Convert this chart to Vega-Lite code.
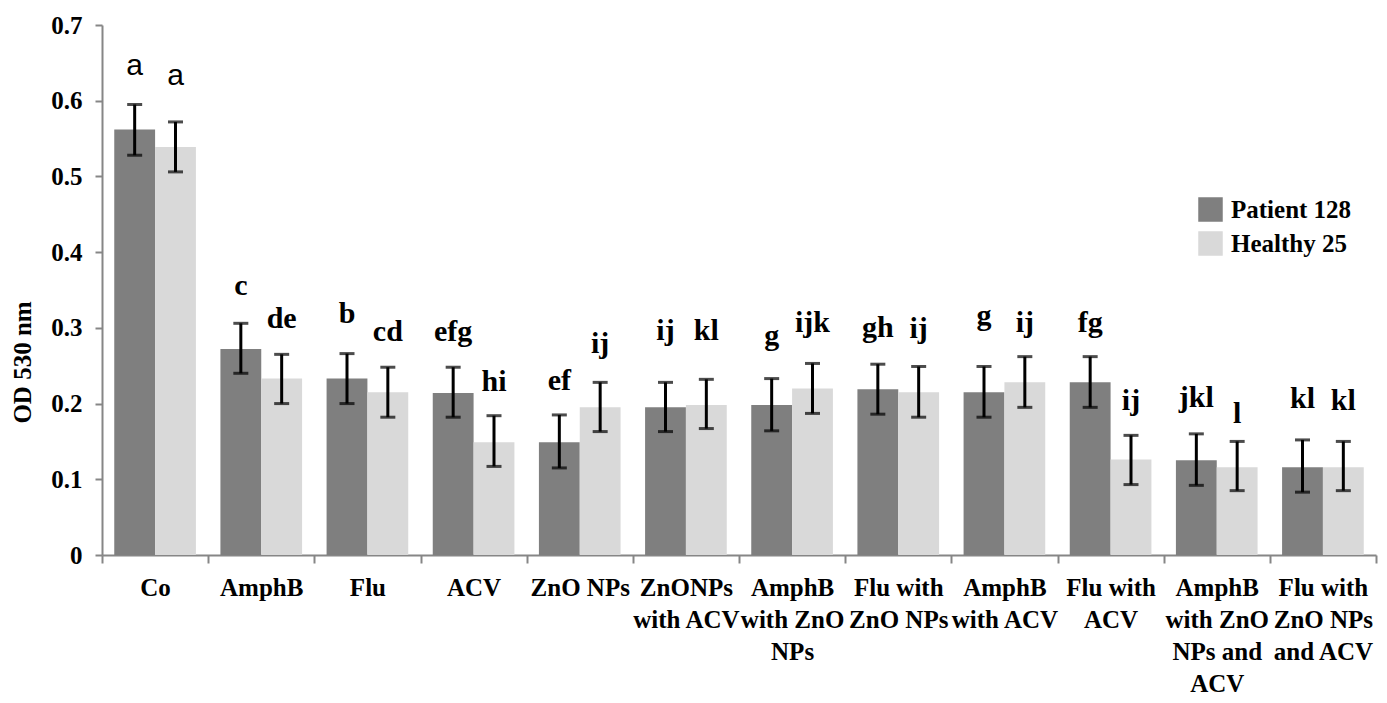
{
  "$schema": "https://vega.github.io/schema/vega-lite/v6.json",
  "width": 1274,
  "height": 530,
  "autosize": {"type": "none"},
  "padding": {"left": 102, "top": 25, "right": 11, "bottom": 148},
  "background": "white",
  "config": {"view": {"stroke": null}},
  "data": {
    "values": [
      {"group": "Co", "series": "Patient 128", "value": 0.562, "lower": 0.528, "upper": 0.595, "letter": "a", "ly": 0.634},
      {"group": "Co", "series": "Healthy 25", "value": 0.539, "lower": 0.506, "upper": 0.572, "letter": "a", "ly": 0.621},
      {"group": "AmphB", "series": "Patient 128", "value": 0.272, "lower": 0.240, "upper": 0.306, "letter": "c", "ly": 0.344},
      {"group": "AmphB", "series": "Healthy 25", "value": 0.233, "lower": 0.200, "upper": 0.265, "letter": "de", "ly": 0.300},
      {"group": "Flu", "series": "Patient 128", "value": 0.233, "lower": 0.200, "upper": 0.266, "letter": "b", "ly": 0.307},
      {"group": "Flu", "series": "Healthy 25", "value": 0.215, "lower": 0.182, "upper": 0.248, "letter": "cd", "ly": 0.283},
      {"group": "ACV", "series": "Patient 128", "value": 0.214, "lower": 0.182, "upper": 0.248, "letter": "efg", "ly": 0.282},
      {"group": "ACV", "series": "Healthy 25", "value": 0.149, "lower": 0.117, "upper": 0.184, "letter": "hi", "ly": 0.216},
      {"group": "ZnO  NPs", "series": "Patient 128", "value": 0.149, "lower": 0.115, "upper": 0.185, "letter": "ef", "ly": 0.218},
      {"group": "ZnO  NPs", "series": "Healthy 25", "value": 0.195, "lower": 0.163, "upper": 0.228, "letter": "ij", "ly": 0.267},
      {"group": "ZnONPs|with ACV", "series": "Patient 128", "value": 0.195, "lower": 0.163, "upper": 0.228, "letter": "ij", "ly": 0.284},
      {"group": "ZnONPs|with ACV", "series": "Healthy 25", "value": 0.198, "lower": 0.167, "upper": 0.232, "letter": "kl", "ly": 0.284},
      {"group": "AmphB|with ZnO|NPs", "series": "Patient 128", "value": 0.198, "lower": 0.164, "upper": 0.233, "letter": "g", "ly": 0.278},
      {"group": "AmphB|with ZnO|NPs", "series": "Healthy 25", "value": 0.220, "lower": 0.187, "upper": 0.253, "letter": "ijk", "ly": 0.295},
      {"group": "Flu with|ZnO  NPs", "series": "Patient 128", "value": 0.219, "lower": 0.186, "upper": 0.252, "letter": "gh", "ly": 0.288},
      {"group": "Flu with|ZnO  NPs", "series": "Healthy 25", "value": 0.215, "lower": 0.182, "upper": 0.249, "letter": "ij", "ly": 0.287},
      {"group": "AmphB|with ACV", "series": "Patient 128", "value": 0.215, "lower": 0.182, "upper": 0.249, "letter": "g", "ly": 0.304},
      {"group": "AmphB|with ACV", "series": "Healthy 25", "value": 0.228, "lower": 0.195, "upper": 0.262, "letter": "ij", "ly": 0.295},
      {"group": "Flu with|ACV", "series": "Patient 128", "value": 0.228, "lower": 0.195, "upper": 0.262, "letter": "fg", "ly": 0.295},
      {"group": "Flu with|ACV", "series": "Healthy 25", "value": 0.126, "lower": 0.093, "upper": 0.158, "letter": "ij", "ly": 0.192},
      {"group": "AmphB|with ZnO|NPs and|ACV", "series": "Patient 128", "value": 0.125, "lower": 0.092, "upper": 0.160, "letter": "jkl", "ly": 0.196},
      {"group": "AmphB|with ZnO|NPs and|ACV", "series": "Healthy 25", "value": 0.116, "lower": 0.085, "upper": 0.150, "letter": "l", "ly": 0.175},
      {"group": "Flu with|ZnO NPs|and ACV", "series": "Patient 128", "value": 0.116, "lower": 0.083, "upper": 0.152, "letter": "kl", "ly": 0.194},
      {"group": "Flu with|ZnO NPs|and ACV", "series": "Healthy 25", "value": 0.116, "lower": 0.085, "upper": 0.150, "letter": "kl", "ly": 0.192}
    ]
  },
  "encoding": {
    "x": {
      "field": "group",
      "type": "nominal",
      "sort": null,
      "scale": {"paddingInner": 0, "paddingOuter": 0},
      "axis": {
        "title": null,
        "labelAngle": 0,
        "tickBand": "extent",
        "labelExpr": "split(datum.label, '|')",
        "domainColor": "#868686",
        "domainWidth": 2,
        "tickColor": "#868686",
        "tickWidth": 2,
        "tickSize": 8,
        "labelFont": "serif",
        "labelFontWeight": "bold",
        "labelFontSize": 25,
        "labelColor": "black",
        "labelPadding": 12,
        "labelLineHeight": 32,
        "labelLimit": 0,
        "labelOverlap": false,
        "labelBound": false,
        "labelFlush": false
      }
    },
    "xOffset": {
      "field": "series",
      "type": "nominal",
      "sort": ["Patient 128", "Healthy 25"],
      "scale": {"paddingInner": 0, "paddingOuter": 0.3}
    }
  },
  "layer": [
    {
      "mark": {"type": "bar"},
      "encoding": {
        "y": {
          "field": "value",
          "type": "quantitative",
          "title": "OD 530 nm",
          "scale": {"domain": [0, 0.7], "nice": false},
          "axis": {
            "title": "OD 530 nm",
            "values": [0, 0.1, 0.2, 0.3, 0.4, 0.5, 0.6, 0.7],
            "format": ".1~f",
            "grid": false,
            "domainColor": "#868686",
            "domainWidth": 2,
            "tickColor": "#868686",
            "tickWidth": 2,
            "tickSize": 7,
            "labelFont": "serif",
            "labelFontWeight": "bold",
            "labelFontSize": 25,
            "labelColor": "black",
            "labelPadding": 13,
            "titleFont": "serif",
            "titleFontWeight": "bold",
            "titleFontSize": 25,
            "titleColor": "black",
            "titleAngle": 270,
            "titleAlign": "center",
            "titleBaseline": "middle",
            "titleX": -80,
            "titleY": 337
          }
        },
        "color": {
          "field": "series",
          "type": "nominal",
          "sort": ["Patient 128", "Healthy 25"],
          "scale": {"domain": ["Patient 128", "Healthy 25"], "range": ["#7f7f7f", "#d9d9d9"]},
          "legend": {
            "title": null,
            "orient": "none",
            "legendX": 1096,
            "legendY": 172,
            "symbolType": "square",
            "symbolSize": 600,
            "symbolStrokeWidth": 0,
            "labelFont": "serif",
            "labelFontWeight": "bold",
            "labelFontSize": 25,
            "labelColor": "black",
            "labelOffset": 8,
            "rowPadding": 8
          }
        }
      }
    },
    {
      "mark": {"type": "rule", "color": "black", "strokeWidth": 3},
      "encoding": {
        "y": {"field": "lower", "type": "quantitative", "title": "OD 530 nm", "scale": {"domain": [0, 0.7], "nice": false}},
        "y2": {"field": "upper"}
      }
    },
    {
      "mark": {"type": "tick", "color": "black", "thickness": 3, "size": 15},
      "encoding": {
        "y": {"field": "lower", "type": "quantitative", "title": "OD 530 nm", "scale": {"domain": [0, 0.7], "nice": false}}
      }
    },
    {
      "mark": {"type": "tick", "color": "black", "thickness": 3, "size": 15},
      "encoding": {
        "y": {"field": "upper", "type": "quantitative", "title": "OD 530 nm", "scale": {"domain": [0, 0.7], "nice": false}}
      }
    },
    {
      "transform": [{"filter": "datum.letter !== 'a'"}],
      "mark": {"type": "text", "font": "serif", "fontWeight": "bold", "fontSize": 30, "baseline": "alphabetic", "align": "center", "color": "black"},
      "encoding": {
        "y": {"field": "ly", "type": "quantitative", "title": "OD 530 nm", "scale": {"domain": [0, 0.7], "nice": false}},
        "text": {"field": "letter"}
      }
    },
    {
      "transform": [{"filter": "datum.letter === 'a'"}],
      "mark": {"type": "text", "font": "sans-serif", "fontSize": 30, "baseline": "alphabetic", "align": "center", "color": "black"},
      "encoding": {
        "y": {"field": "ly", "type": "quantitative", "title": "OD 530 nm", "scale": {"domain": [0, 0.7], "nice": false}},
        "text": {"field": "letter"}
      }
    }
  ]
}
